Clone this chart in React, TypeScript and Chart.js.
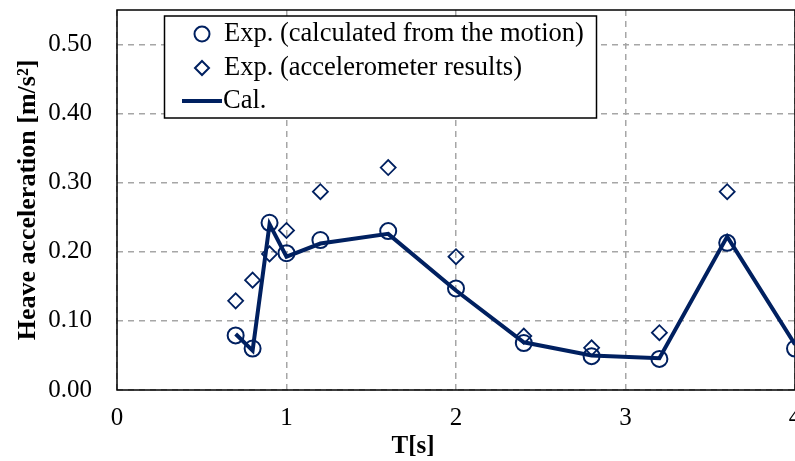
import React, { useEffect, useRef } from "react";
import { Chart, registerables } from "chart.js";

Chart.register(...registerables);

const T_MOTION = [0.7, 0.8, 0.9, 1.0, 1.2, 1.6, 2.0, 2.4, 2.8, 3.2, 3.6, 4.0];
const EXP_MOTION = [0.079, 0.060, 0.242, 0.198, 0.217, 0.230, 0.147, 0.068, 0.049, 0.045, 0.213, 0.060];
const T_ACCEL = [0.7, 0.8, 0.9, 1.0, 1.2, 1.6, 2.0, 2.4, 2.8, 3.2, 3.6];
const EXP_ACCEL = [0.129, 0.159, 0.197, 0.231, 0.287, 0.322, 0.193, 0.078, 0.061, 0.083, 0.287];
const T_CAL = [0.7, 0.8, 0.9, 1.0, 1.2, 1.6, 2.0, 2.4, 2.8, 3.2, 3.6, 4.0];
const CAL = [0.081, 0.057, 0.240, 0.193, 0.212, 0.226, 0.144, 0.069, 0.050, 0.046, 0.222, 0.066];

const LEGEND_LABELS = ["Exp. (calculated from the motion)", "Exp. (accelerometer results)", "Cal."];
const X_TITLE = "T[s]";
const Y_TITLE = "Heave acceleration [m/s²]";

const NAVY = "#002060";
const FONT = "'Liberation Serif', 'Times New Roman', serif";

const zip = (xs: number[], ys: number[]) => xs.map((x, i) => ({ x, y: ys[i] }));

const overlayPlugin = {
  id: "overlay",
  beforeDatasetsDraw(chart: any) {
    const { ctx, chartArea } = chart;
    ctx.save();
    ctx.strokeStyle = "#000";
    ctx.lineWidth = 1.5;
    ctx.strokeRect(chartArea.left, chartArea.top, chartArea.right - chartArea.left, chartArea.bottom - chartArea.top);
    ctx.restore();
  },
  afterDraw(chart: any) {
    const { ctx } = chart;
    ctx.save();
    // axis titles
    ctx.fillStyle = "#000";
    ctx.font = `bold 25px ${FONT}`;
    ctx.textAlign = "center";
    ctx.textBaseline = "middle";
    ctx.fillText(X_TITLE, 413, 447);
    ctx.font = `bold 26px ${FONT}`;
    ctx.translate(28, 200);
    ctx.rotate(-Math.PI / 2);
    ctx.fillText(Y_TITLE, 0, 0);
    ctx.restore();

    // legend
    ctx.save();
    const bx = 164.5, by = 16, bw = 432, bh = 102;
    ctx.fillStyle = "#fff";
    ctx.fillRect(bx, by, bw, bh);
    ctx.strokeStyle = "#000";
    ctx.lineWidth = 1.5;
    ctx.strokeRect(bx, by, bw, bh);
    const rows = [34, 68, 101];
    ctx.strokeStyle = NAVY;
    ctx.lineWidth = 2;
    ctx.beginPath();
    ctx.arc(202, rows[0], 7.5, 0, Math.PI * 2);
    ctx.stroke();
    ctx.beginPath();
    ctx.moveTo(202, rows[1] - 7);
    ctx.lineTo(209, rows[1]);
    ctx.lineTo(202, rows[1] + 7);
    ctx.lineTo(195, rows[1]);
    ctx.closePath();
    ctx.stroke();
    ctx.lineWidth = 4;
    ctx.beginPath();
    ctx.moveTo(182, rows[2]);
    ctx.lineTo(222, rows[2]);
    ctx.stroke();
    ctx.fillStyle = "#000";
    ctx.font = `26.5px ${FONT}`;
    ctx.textAlign = "left";
    ctx.textBaseline = "middle";
    ctx.fillText(LEGEND_LABELS[0], 224, rows[0]);
    ctx.fillText(LEGEND_LABELS[1], 224, rows[1]);
    ctx.fillText(LEGEND_LABELS[2], 223, rows[2]);
    ctx.restore();
  },
};

export default function App() {
  const ref = useRef<HTMLCanvasElement>(null);
  useEffect(() => {
    document.body.style.margin = "0";
    const chart = new Chart(ref.current as HTMLCanvasElement, {
      type: "scatter",
      data: {
        datasets: [
          {
            label: LEGEND_LABELS[2],
            data: zip(T_CAL, CAL),
            showLine: true,
            borderColor: NAVY,
            borderWidth: 4,
            pointRadius: 0,
            pointHoverRadius: 0,
          },
          {
            label: LEGEND_LABELS[0],
            data: zip(T_MOTION, EXP_MOTION),
            pointStyle: "circle",
            pointRadius: 8,
            pointBorderWidth: 2,
            borderColor: NAVY,
            backgroundColor: "rgba(0,0,0,0)",
          },
          {
            label: LEGEND_LABELS[1],
            data: zip(T_ACCEL, EXP_ACCEL),
            pointStyle: "rectRot",
            pointRadius: 7.5,
            pointBorderWidth: 1.8,
            borderColor: NAVY,
            backgroundColor: "rgba(0,0,0,0)",
          },
        ],
      },
      options: {
        responsive: false,
        animation: false,
        layout: { padding: { top: 7, right: 35, left: 0, bottom: 0 } },
        plugins: { legend: { display: false }, tooltip: { enabled: false } },
        scales: {
          x: {
            type: "linear",
            min: 0,
            max: 4,
            ticks: { stepSize: 1, color: "#000", font: { family: FONT, size: 25 }, padding: 13 },
            grid: { color: "#a6a6a6", lineWidth: 1.5, drawTicks: false },
            border: { display: false, dash: [6, 5] },
            afterFit: (s: any) => {
              s.height = 71;
              s.paddingLeft = 0;
              s.paddingRight = 0;
            },
          },
          y: {
            type: "linear",
            min: 0,
            max: 0.55,
            ticks: {
              stepSize: 0.1,
              color: "#000",
              font: { family: FONT, size: 25 },
              padding: 25,
              callback: (v: any) => Number(v).toFixed(2),
            },
            afterBuildTicks: (s: any) => {
              s.ticks = s.ticks.filter((t: any) => t.value <= 0.5001);
            },
            grid: { color: "#a6a6a6", lineWidth: 1.5, drawTicks: false },
            border: { display: false, dash: [6, 5] },
            afterFit: (s: any) => {
              s.width = 117;
              s.paddingTop = 0;
              s.paddingBottom = 0;
            },
          },
        },
      },
      plugins: [overlayPlugin],
    });
    return () => chart.destroy();
  }, []);
  return (
    <div style={{ width: 795, height: 461, overflow: "hidden", position: "relative", background: "#fff" }}>
      <canvas ref={ref} width={830} height={461} style={{ display: "block" }} />
    </div>
  );
}
